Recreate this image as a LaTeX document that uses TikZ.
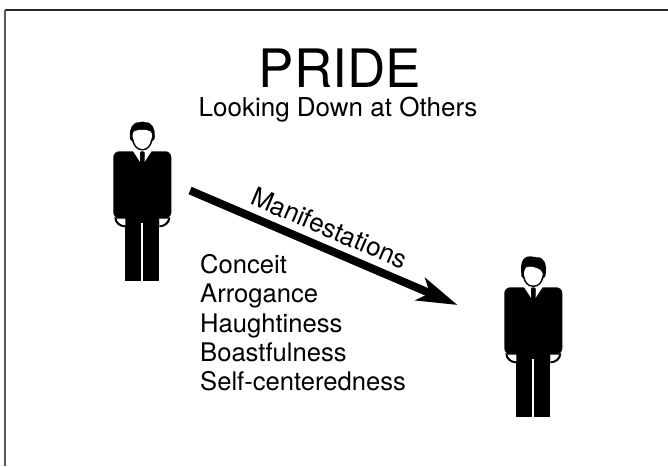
\documentclass[tikz,border=0pt]{standalone}
\usepackage{fontspec}
\setmainfont{TeX Gyre Heros}
\usetikzlibrary{arrows.meta}

\tikzset{
  titletext/.style={inner sep=0pt, anchor=base, font=\fontsize{53}{53}\selectfont},
  subtitletext/.style={inner sep=0pt, anchor=base, font=\fontsize{26}{26}\selectfont},
  listtext/.style={inner sep=0pt, anchor=base west, font=\fontsize{25.6}{26}\selectfont},
  person/.pic={
    % suit and legs
    \fill[black, rounded corners=6pt] (-29, 0) rectangle (29, 67);
    \fill[black] (-17, 60) rectangle (17, 72);
    \fill[black] (-17, 70) rectangle (-1, 130);
    \fill[black] (1, 70) rectangle (17, 130);
    % hands
    \fill[black] (-28, 66) .. controls (-28, 72) and (-23, 76) .. (-17, 76) -- (-17, 66) -- cycle;
    \fill[black] (28, 66) .. controls (28, 72) and (23, 76) .. (17, 76) -- (17, 66) -- cycle;
    \fill[white] (-25.8, 67.3) .. controls (-25, 71) and (-21, 74) .. (-17, 74) -- (-17, 67.3) -- cycle;
    \fill[white] (25.8, 67.3) .. controls (25, 71) and (21, 74) .. (17, 74) -- (17, 67.3) -- cycle;
    % collar
    \fill[white] (-9.5, -0.5) -- (-2.3, 10.5) -- (-2.3, 1) -- (-1, -0.5) -- cycle;
    \fill[white] (9.5, -0.5) -- (2.3, 10.5) -- (2.3, 1) -- (1, -0.5) -- cycle;
    \fill[black] (-2.2, 1.5) -- (2.2, 1.5) -- (1.6, 10) -- (0, 11.5) -- (-1.6, 10) -- cycle;
  },
  hairone/.pic={
    \fill[black] (0, -0.8) .. controls (-6, -0.8) and (-9, -6) .. (-10, -10)
      .. controls (-12, -11) and (-13, -13) .. (-12.5, -15)
      .. controls (-13, -22) and (-10, -29.5) .. (-3, -29)
      .. controls (-1, -30) and (1, -30) .. (3, -29)
      .. controls (10, -29.5) and (13, -22) .. (12.5, -15)
      .. controls (13, -13) and (12, -11) .. (10, -10)
      .. controls (9, -6) and (6, -0.8) .. (0, -0.8) -- cycle;
    \fill[white] (0, -2.3) .. controls (-5, -2.3) and (-8, -7) .. (-8.5, -11)
      .. controls (-10, -14) and (-10.5, -18) .. (-8, -20)
      .. controls (-5, -22) and (-3, -21) .. (0, -21.5)
      .. controls (3, -21) and (5, -22) .. (8, -20)
      .. controls (10.5, -18) and (10, -14) .. (8.5, -11)
      .. controls (8, -7) and (5, -2.3) .. (0, -2.3) -- cycle;
  },
  hairtwo/.pic={
    \fill[black] (0, -0.3) .. controls (-6, -0.3) and (-9, -5) .. (-10, -9)
      .. controls (-12, -10) and (-12.5, -12) .. (-12, -14)
      .. controls (-13, -22) and (-12, -31) .. (-3, -31)
      .. controls (0, -31) and (1, -30) .. (3, -30)
      .. controls (11, -31) and (13.5, -23) .. (12.5, -14)
      .. controls (12.5, -12) and (12, -10) .. (10, -9)
      .. controls (9, -5) and (6, -0.3) .. (0, -0.3) -- cycle;
    \fill[white] (0, -1.8) .. controls (-5, -1.8) and (-8, -6) .. (-8.5, -10)
      .. controls (-10, -13) and (-9.5, -17) .. (-7, -20)
      .. controls (-3, -21.5) and (3, -20) .. (7, -17.5)
      .. controls (9.5, -15.5) and (10, -13) .. (8.5, -10)
      .. controls (8, -6) and (5, -1.8) .. (0, -1.8) -- cycle;
  }
}

\begin{document}
\begin{tikzpicture}[x=1pt, y=-1pt]
\useasboundingbox (0, 0) rectangle (668, 466);

\coordinate (corner) at (5, 10); % upper left of the slide
\coordinate (topend) at (668, 10);
\coordinate (leftend) at (5, 466);
\coordinate (arrowstart) at (190, 190.5);
\coordinate (arrowend) at (457.5, 305);

% slide edge
\draw[line width=1.6pt, black!85] (corner) -- (topend);
\draw[line width=2pt, black!65] (corner) -- (leftend);
%

\node[titletext] (title) at (339.7, 87.3) {PRIDE};
\node[subtitletext] (subtitle) at (338, 116) {Looking Down at Others};

% people
\pic (upper) at (142.3, 151.3) {person};
\pic (upperhead) at (142.3, 151.3) {hairone};
\pic (lower) at (533.3, 287.3) {person};
\pic (lowerhead) at (533.3, 287.3) {hairtwo};
%

\draw[line width=8pt, -{Stealth[length=40pt, width=24pt, inset=10pt]}] (arrowstart) -- (arrowend);
\node[inner sep=0pt, rotate=-23.2, font=\fontsize{26}{26}\selectfont] (manifest) at (329.5, 228) {Manifestations};

\foreach \name/\word/\ypos in {conceit/Conceit/273.3, arrogance/Arrogance/302.7, haughty/Haughtiness/332.1, boast/Boastfulness/361.5, selfcentered/Self-centeredness/390.9}
  \node[listtext] (\name) at (200, \ypos) {\word};
\end{tikzpicture}
\end{document}
